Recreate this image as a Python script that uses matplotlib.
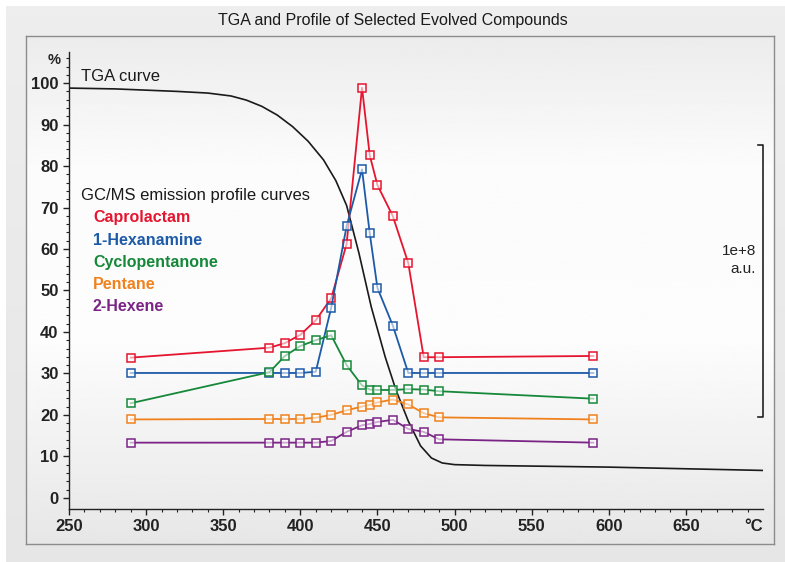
import numpy as np
import matplotlib.pyplot as plt
from matplotlib.ticker import MultipleLocator

plt.rcParams['font.family'] = ['Liberation Sans', 'DejaVu Sans']

# temperatures of the GC/MS samples (deg C)
temps = [290, 380, 390, 400, 410, 420, 430, 440, 445, 450, 460, 470, 480, 490, 590]

caprolactam = [33.8, 36.2, 37.3, 39.3, 42.8, 48.1, 61.2, 98.9, 82.6, 75.4, 67.9, 56.6, 33.9, 33.9, 34.2]
hexanamine = [30.1, 30.1, 30.1, 30.1, 30.4, 45.8, 65.5, 79.2, 63.8, 50.6, 41.5, 30.1, 30.1, 30.1, 30.1]
cyclopentanone = [22.8, 30.3, 34.2, 36.6, 38.0, 39.2, 32.0, 27.1, 26.1, 26.0, 26.0, 26.2, 26.1, 25.7, 23.9]
pentane = [18.9, 19.0, 19.0, 19.0, 19.3, 20.0, 21.1, 22.0, 22.4, 23.0, 23.7, 22.5, 20.4, 19.4, 18.9]
hexene = [13.3, 13.3, 13.3, 13.3, 13.3, 13.7, 15.9, 17.5, 17.8, 18.3, 18.8, 16.6, 15.9, 14.1, 13.3]

names = ['Caprolactam', '1-Hexanamine', 'Cyclopentanone', 'Pentane', '2-Hexene']
series = [caprolactam, hexanamine, cyclopentanone, pentane, hexene]
colors = ['#e5152f', '#1d5aa8', '#16883a', '#f0821e', '#7a2585']

# TGA mass curve (%)
tga_t = [250, 280, 300, 320, 340, 355, 365, 375, 385, 395, 405, 415, 423, 430, 438,
         446, 455, 462, 470, 478, 485, 492, 500, 520, 560, 600, 650, 700]
tga_m = [98.8, 98.6, 98.3, 98.0, 97.6, 96.9, 95.9, 94.4, 92.3, 89.5, 86.0, 81.5, 76.5,
         70.5, 59.0, 46.0, 34.0, 26.0, 18.5, 12.5, 9.6, 8.4, 8.0, 7.8, 7.6, 7.4, 7.0, 6.6]

W, H = 785, 562
fig = plt.figure(figsize=(W / 100, H / 100), dpi=100)
fig.patch.set_facecolor('white')

# outer grey frame
bg = fig.add_axes([6 / W, 0, 1 - 6 / W, 1 - 6 / H])
bg.imshow(np.linspace(0.93, 0.90, 50).reshape(-1, 1), cmap='gray', vmin=0, vmax=1,
          aspect='auto', extent=[0, 1, 0, 1])
bg.axis('off')

# inner panel with soft vertical gradient
panel = fig.add_axes([26 / W, 1 - 544 / H, (774 - 26) / W, (544 - 36) / H])
grad = np.interp(np.linspace(0, 1, 200), [0, 0.25, 0.6, 1], [0.925, 0.985, 0.99, 0.905])
panel.imshow(grad.reshape(-1, 1), cmap='gray', vmin=0, vmax=1, aspect='auto',
             extent=[0, 1, 0, 1])
panel.set_xticks([])
panel.set_yticks([])
for s in panel.spines.values():
    s.set_color('#8c8c8c')
    s.set_linewidth(1.0)

fig.text(0.5, 1 - 21 / H, 'TGA and Profile of Selected Evolved Compounds',
         ha='center', va='center', fontsize=11.5, color='#1a1a1a')

ax = fig.add_axes([69 / W, 1 - 509 / H, (763 - 69) / W, (509 - 52) / H])
ax.patch.set_alpha(0)
ax.set_xlim(250, 700)
ax.set_ylim(-2.7, 107.5)
for s in ['top', 'right']:
    ax.spines[s].set_visible(False)
for s in ['left', 'bottom']:
    ax.spines[s].set_color('#222222')
    ax.spines[s].set_linewidth(1.0)

ax.set_xticks(np.arange(250, 651, 50))
ax.set_xticks(np.arange(260, 691, 10), minor=True)
ax.set_yticks(np.arange(0, 101, 10))
ax.set_yticks(np.arange(0, 107, 2), minor=True)
ax.tick_params(which='major', direction='out', length=4.5, width=1, colors='#222222',
               labelsize=12, pad=3)
ax.tick_params(which='minor', direction='out', length=2.5, width=0.8, colors='#222222')
for lab in ax.get_xticklabels() + ax.get_yticklabels():
    lab.set_fontweight('bold')
ax.annotate('\u00b0C', xy=(694, 0), xycoords=ax.get_xaxis_transform(),
            xytext=(0, -7.5), textcoords='offset points', ha='center', va='top',
            fontsize=12, fontweight='bold', color='#222222')
ax.text(-0.012, 105.5, '%', ha='right', va='center', fontsize=10.5, fontweight='bold',
        color='#222222', transform=ax.get_yaxis_transform())

ax.plot(tga_t, tga_m, color='#1a1a1a', lw=1.2, zorder=2)

for vals, c in zip(series, colors):
    ax.plot(temps, vals, color=c, lw=1.3, marker='s', ms=5.5, mfc=(1, 1, 1, 0.6),
            mec=c, mew=1.1, zorder=3)

ax.text(258, 101.5, 'TGA curve', fontsize=12, color='#1a1a1a', va='center')
ax.text(258, 72.8, 'GC/MS emission profile curves', fontsize=12, color='#1a1a1a',
        va='center')
for i, (n, c) in enumerate(zip(names, colors)):
    ax.text(265.5, 67.5 - i * 5.35, n, fontsize=11.5, fontweight='bold', color=c,
            va='center')

# scale bracket on the right
ax.plot([697, 700, 700, 697], [85.0, 85.0, 19.5, 19.5], color='#222222', lw=1.2,
        clip_on=False)
ax.text(695.5, 57.3, '1e+8\na.u.', ha='right', va='center', fontsize=11,
        color='#222222', linespacing=1.4)

fig.savefig('out.png', dpi=100)
